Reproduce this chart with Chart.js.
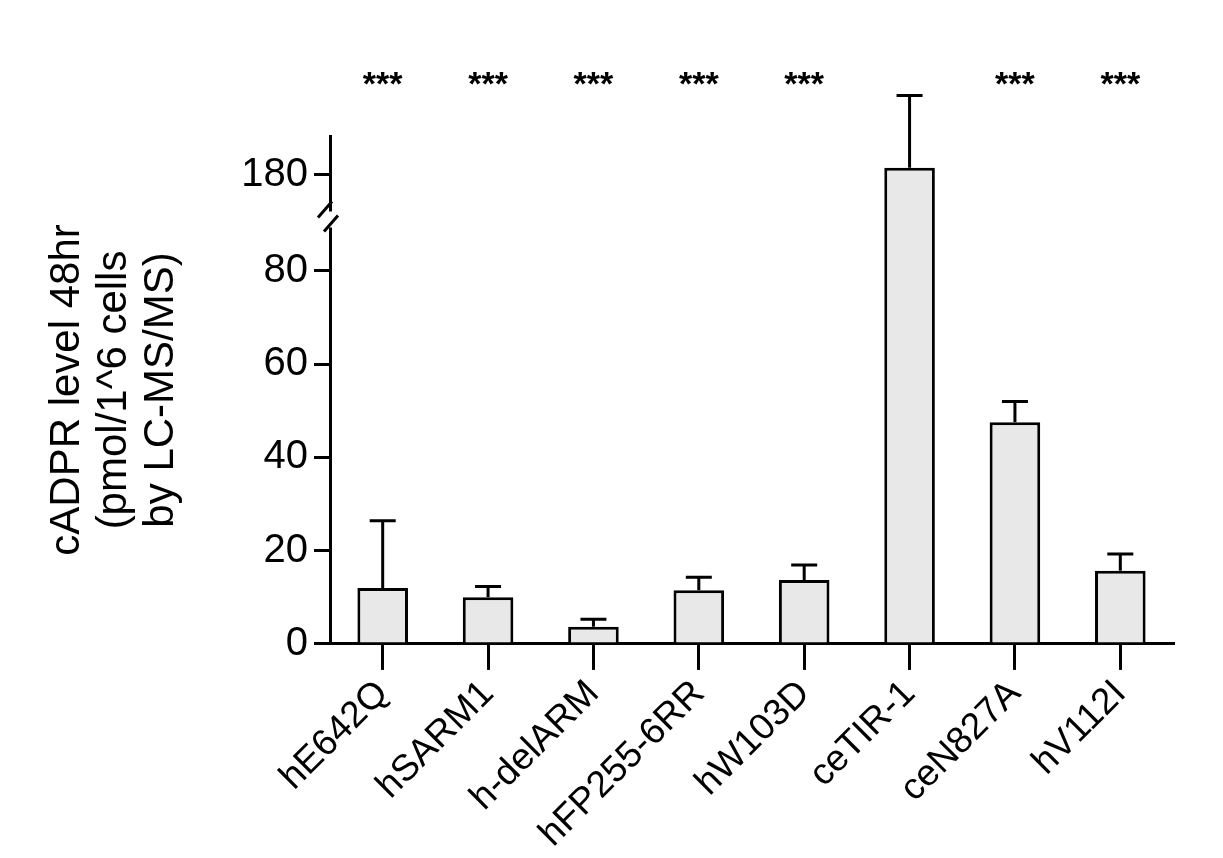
<!DOCTYPE html>
<html><head><meta charset="utf-8">
<script src="https://cdn.jsdelivr.net/npm/chart.js@4"></script>
<style>html,body{margin:0;background:#fff}#w{width:1223px;height:858px}</style>
</head><body><div id="w"><canvas id="c"></canvas></div>
<script>
const categories=["hE642Q","hSARM1","h-delARM","hFP255-6RR","hW103D","ceTIR-1","ceN827A","hV112I"];
const means=[12,10,3.7,11.5,13.7,183,47.5,15.7];
const errTops=[26.4,12.3,5.3,14.3,16.9,214,52,19.3];
const stars=["***","***","***","***","***","","***","***"];
const yTicks=[0,20,40,60,80,180];
function tf(v){return v<=90?v:100.6+(v-180)*0.5;}
const F="Arial, 'Liberation Sans', sans-serif";
const extras={id:'extras',afterDraw(ch){
  const c=ch.ctx,x=ch.scales.x,y=ch.scales.y;
  c.save();c.strokeStyle='#000';c.lineWidth=3;
  means.forEach((m,i)=>{const cx=x.getPixelForValue(i);const y1=y.getPixelForValue(tf(m)),y2=y.getPixelForValue(tf(errTops[i]));
    c.beginPath();c.moveTo(cx,y1);c.lineTo(cx,y2);c.moveTo(cx-13,y2);c.lineTo(cx+13,y2);c.stroke();});
  const ax=y.right; const yb=y.getPixelForValue(91);
  c.fillStyle='#fff';c.fillRect(ax-4,yb-8,8,16);
  c.beginPath();c.moveTo(ax-12,yb-2);c.lineTo(ax+2,yb-18);c.moveTo(ax-6,yb+12);c.lineTo(ax+8,yb-4);c.stroke();
  c.fillStyle='#000';c.font='bold 34px '+F;c.textAlign='center';c.textBaseline='middle';
  stars.forEach((s,i)=>{if(s)c.fillText(s,x.getPixelForValue(i),ch.chartArea.top-50);});
  c.restore();}};
new Chart(document.getElementById('c'),{type:'bar',
 data:{labels:categories,datasets:[{data:means.map(tf),backgroundColor:'#e8e8e8',borderColor:'#000',borderWidth:3,barPercentage:0.48,categoryPercentage:1}]},
 options:{responsive:true,maintainAspectRatio:false,animation:false,
  layout:{padding:{top:136,right:50,left:40,bottom:0}},
  plugins:{legend:{display:false},tooltip:{enabled:false}},
  scales:{
   x:{grid:{drawOnChartArea:false,offset:false,color:'#000',lineWidth:3,tickLength:26,tickColor:'#000'},border:{color:'#000',width:3},
      ticks:{color:'#000',font:{size:37,family:F},maxRotation:45,minRotation:45,padding:2}},
   y:{min:0,max:108.9,afterFit(s){s.width=290;},grid:{drawOnChartArea:false,color:'#000',lineWidth:3,tickLength:16,tickColor:'#000'},border:{color:'#000',width:3},
      afterBuildTicks(s){s.ticks=yTicks.map(v=>({value:tf(v)}));},
      ticks:{color:'#000',font:{size:40,family:F},padding:6,callback:(v)=>{const r=v>90?180:Math.round(v);return String(r);}},
      title:{display:true,text:["cADPR level 48hr","(pmol/1^6 cells","by LC-MS/MS)"],color:'#000',font:{size:42,family:F,lineHeight:1.12},padding:{bottom:6}}}
  }},plugins:[extras]});
</script></body></html>
